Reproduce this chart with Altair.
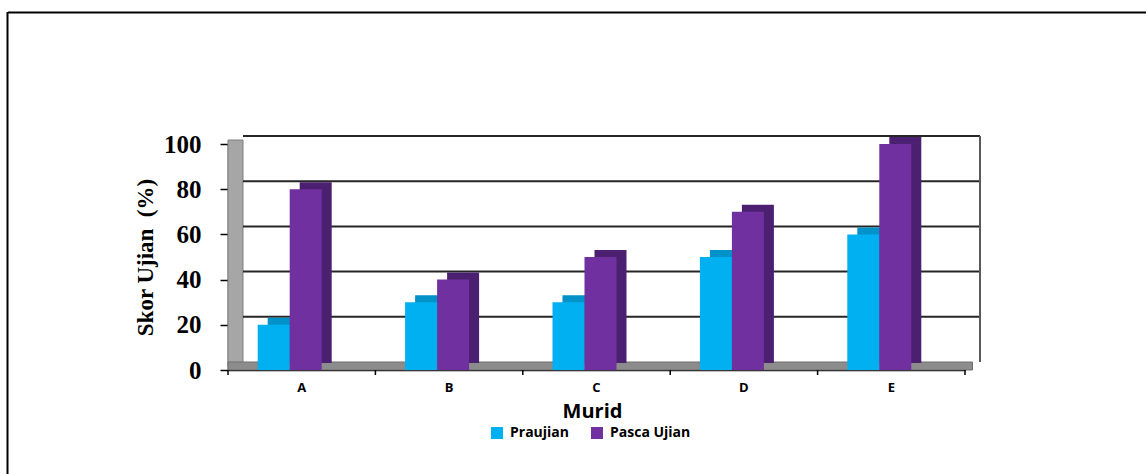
import altair as alt
import pandas as pd

# ---- data ----
categories = ["A", "B", "C", "D", "E"]
praujian = [20, 30, 30, 50, 60]
pasca_ujian = [80, 40, 50, 70, 100]
series_names = ["Praujian", "Pasca Ujian"]
series_colors = ["#00B0F0", "#7030A0"]
series_shades = ["#0092C8", "#4B2070"]
y_ticks = [0, 20, 40, 60, 80, 100]
wall_grid = [20, 40, 60, 80, 100]
x_title_text = ["Murid"]

rows = []
for c, a, b in zip(categories, praujian, pasca_ujian):
    rows.append({"Murid": c, "Seri": "Praujian", "Skor": a})
    rows.append({"Murid": c, "Seri": "Pasca Ujian", "Skor": b})
df = pd.DataFrame(rows)
cat_df = pd.DataFrame({"Murid": categories})
grid_df = pd.DataFrame({"Skor": wall_grid})
one_df = pd.DataFrame({"t": x_title_text})

W, H = 737, 226
DX, DY = 15, -8          # depth of the 3D walls (pixels)
PAD_L, PAD_T = 228, 144
STEP = W / len(categories)
BAR_W = 32
SHIFT = -12
SIDE = 10                # depth of the bars' side face

x_scale = alt.Scale(domain=categories, paddingInner=0, paddingOuter=0)
y_scale = alt.Scale(domain=[0, 100], nice=False)
xoff_scale = alt.Scale(
    domain=series_names, paddingInner=0, paddingOuter=0,
    range=[STEP / 2 - BAR_W + SHIFT, STEP / 2 + BAR_W + SHIFT],
)
xoff_shade_scale = alt.Scale(
    domain=series_names, paddingInner=0, paddingOuter=0,
    range=[STEP / 2 - BAR_W + SHIFT + SIDE, STEP / 2 + BAR_W + SHIFT + SIDE],
)
color_scale = alt.Scale(domain=series_names, range=series_colors)
shade_scale = alt.Scale(domain=series_names, range=series_shades)

x_axis = alt.Axis(
    title=None, labelAngle=0, ticks=False, labelPadding=11,
    labelFont="Open Sans", labelFontSize=13, labelFontWeight="bold",
    labelColor="black", domainColor="black", domainWidth=1.5,
)
y_axis = alt.Axis(
    values=y_ticks, grid=False, title="Skor Ujian\u00a0 (%)",
    titleFont="Liberation Serif", titleFontSize=23, titleFontWeight="bold",
    titleColor="black", titlePadding=6,
    labelFont="Liberation Serif", labelFontSize=25, labelFontWeight="bold",
    labelColor="black", labelPadding=19, tickSize=8, tickColor="black",
    domainColor="black", domainWidth=1.5, tickWidth=1.5,
)

X = alt.X("Murid:N", scale=x_scale, sort=categories, axis=x_axis)
Y = alt.Y("Skor:Q", scale=y_scale, axis=y_axis)

base = alt.Chart(df)

# 3D walls (decoration)
left_wall = alt.Chart(one_df).mark_rect(color="#A6A6A6", stroke="#7F7F7F", strokeWidth=1).encode(
    x=alt.value(0), x2=alt.value(DX), y=alt.value(DY / 2), y2=alt.value(H + DY / 2)
)
floor = alt.Chart(one_df).mark_rect(color="#8C8C8C", stroke="#6F6F6F", strokeWidth=1).encode(
    x=alt.value(0), x2=alt.value(W + DX / 2), y=alt.value(H + DY), y2=alt.value(H)
)
back_grid = alt.Chart(grid_df).mark_rule(color="#262626", strokeWidth=2, yOffset=DY).encode(
    y=Y, x=alt.value(DX), x2=alt.value(W + DX),
)
back_edge = alt.Chart(one_df).mark_rule(color="#5A5A5A", strokeWidth=2).encode(
    x=alt.value(W + DX), y=alt.value(DY), y2=alt.value(H + DY)
)

# bar side/top faces
shade = base.mark_bar(yOffset=-7, y2Offset=-7).encode(
    x=X,
    xOffset=alt.XOffset("Seri:N", scale=xoff_shade_scale, sort=series_names),
    y=Y,
    color=alt.Color("Seri:N", scale=shade_scale, legend=None),
)

bars = base.mark_bar().encode(
    x=X,
    xOffset=alt.XOffset("Seri:N", scale=xoff_scale, sort=series_names),
    y=Y,
    color=alt.Color(
        "Seri:N", scale=color_scale, sort=series_names,
        legend=alt.Legend(
            title=None, orient="none", legendX=262, legendY=282, direction="horizontal",
            symbolType="square", symbolSize=144, symbolStrokeWidth=0,
            labelFont="Open Sans", labelFontSize=14, labelFontWeight="bold",
            labelColor="black", labelOffset=6, columnPadding=20,
        ),
    ),
)

x_ticks = alt.Chart(cat_df).mark_rule(color="black", strokeWidth=1.5).encode(
    x=alt.X("Murid:N", scale=x_scale, sort=categories, bandPosition=0, axis=x_axis),
    y=alt.value(H), y2=alt.value(H + 5),
)
x_tick_end = alt.Chart(one_df).mark_rule(color="black", strokeWidth=1.5).encode(
    x=alt.value(W), y=alt.value(H), y2=alt.value(H + 5)
)

x_title = alt.Chart(one_df).mark_text(
    font="Open Sans", fontSize=20, fontWeight="bold", color="black",
    baseline="alphabetic",
).encode(text="t:N", x=alt.value(W / 2 - 4), y=alt.value(274))

frame_top = alt.Chart(one_df).mark_rule(color="black", strokeWidth=2).encode(
    x=alt.value(-220), x2=alt.value(1146 - PAD_L), y=alt.value(12.5 - PAD_T)
)
frame_left = alt.Chart(one_df).mark_rule(color="black", strokeWidth=2).encode(
    x=alt.value(7.5 - PAD_L), y=alt.value(12 - PAD_T), y2=alt.value(474 - PAD_T)
)

chart = alt.layer(
    left_wall, floor, back_grid, back_edge, shade, bars, x_ticks, x_tick_end,
    x_title, frame_top, frame_left,
).resolve_scale(color="independent", xOffset="independent").properties(
    width=W, height=H,
    autosize=alt.AutoSizeParams(type="none"),
    padding={"left": PAD_L, "top": PAD_T, "right": 1146 - PAD_L - W, "bottom": 474 - PAD_T - H},
    background="white",
).configure_view(stroke=None)

chart.save("out.html", embed_options={"renderer": "svg", "actions": False})
